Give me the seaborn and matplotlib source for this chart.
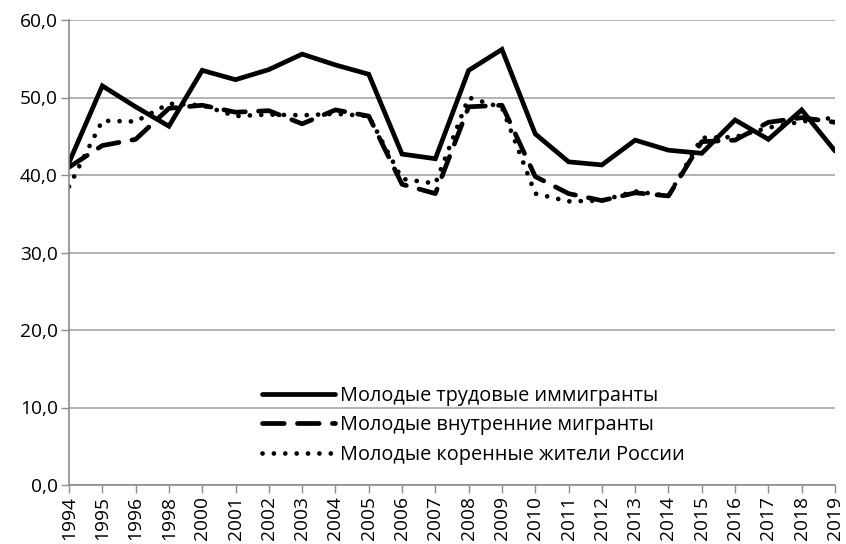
import matplotlib
matplotlib.use("Agg")
import matplotlib.pyplot as plt
import seaborn as sns
import pandas as pd
import numpy as np

years = ["1994", "1995", "1996", "1998", "2000", "2001", "2002", "2003", "2004", "2005",
         "2006", "2007", "2008", "2009", "2010", "2011", "2012", "2013", "2014", "2015",
         "2016", "2017", "2018", "2019"]
immigrants = [41.6, 51.5, 48.8, 46.3, 53.5, 52.3, 53.6, 55.6, 54.2, 53.0,
              42.7, 42.1, 53.5, 56.2, 45.3, 41.7, 41.3, 44.5, 43.2, 42.8,
              47.1, 44.6, 48.4, 43.1]
internal = [41.0, 43.8, 44.6, 48.6, 49.0, 48.1, 48.3, 46.6, 48.4, 47.6,
            38.8, 37.6, 48.8, 49.0, 39.8, 37.6, 36.7, 37.7, 37.3, 44.3,
            44.5, 46.8, 47.4, 46.8]
natives = [38.5, 47.0, 46.9, 49.2, 49.0, 47.6, 47.8, 47.7, 47.9, 47.6,
           39.5, 38.9, 50.0, 48.7, 37.6, 36.6, 36.7, 37.9, 37.3, 44.8,
           44.9, 46.1, 46.9, 47.4]
labels = ["Молодые трудовые иммигранты", "Молодые внутренние мигранты",
          "Молодые коренные жители России"]
yticks = [0, 10, 20, 30, 40, 50, 60]

sns.set_theme(style="white")
plt.rcParams["font.family"] = ["Open Sans", "DejaVu Sans"]
plt.rcParams["text.color"] = "black"

pos = np.arange(len(years))
df = pd.DataFrame({"pos": pos, "imm": immigrants, "int": internal, "nat": natives})

fig = plt.figure(figsize=(8.46, 5.44), dpi=100)
ax = fig.add_axes([69/846, 1-485/544, (835-69)/846, (485-20)/544])

sns.lineplot(data=df, x="pos", y="imm", ax=ax, color="black", lw=3.4,
             label=labels[0], solid_joinstyle="miter")
sns.lineplot(data=df, x="pos", y="int", ax=ax, color="black", lw=3.4,
             label=labels[1], dashes=(4.6, 2.8), dash_capstyle="round")
sns.lineplot(data=df, x="pos", y="nat", ax=ax, color="black", lw=3.4,
             label=labels[2], dashes=(0.01, 2.4), dash_capstyle="round")

ax.set_xlim(0, len(years) - 1)
ax.set_ylim(0, 60)
ax.set_yticks(yticks)
ax.set_yticklabels([f"{v:.1f}".replace(".", ",") for v in yticks], fontsize=13.8)
ax.set_xticks(pos)
ax.set_xticklabels(years, rotation=90, fontsize=13.8)
ax.set_xlabel("")
ax.set_ylabel("")
ax.grid(axis="y", color="#a6a6a6", lw=1.2)
ax.set_axisbelow(True)
for s in ["top", "right"]:
    ax.spines[s].set_visible(False)
for s in ["left", "bottom"]:
    ax.spines[s].set_color("#8c8c8c")
    ax.spines[s].set_linewidth(1.2)
ax.tick_params(axis="both", which="both", direction="out", length=6, width=1.0,
               color="#8c8c8c", left=True, bottom=True, pad=2, labelcolor="black")

leg = ax.legend(loc="upper left", bbox_to_anchor=(262/846, 1-386/544),
                bbox_transform=fig.transFigure, frameon=False, fontsize=14.3,
                handlelength=3.7, handletextpad=0.25, labelspacing=0.47,
                borderpad=0, borderaxespad=0)
for t in leg.get_texts():
    t.set_color("black")

fig.savefig("out.png", dpi=100)
